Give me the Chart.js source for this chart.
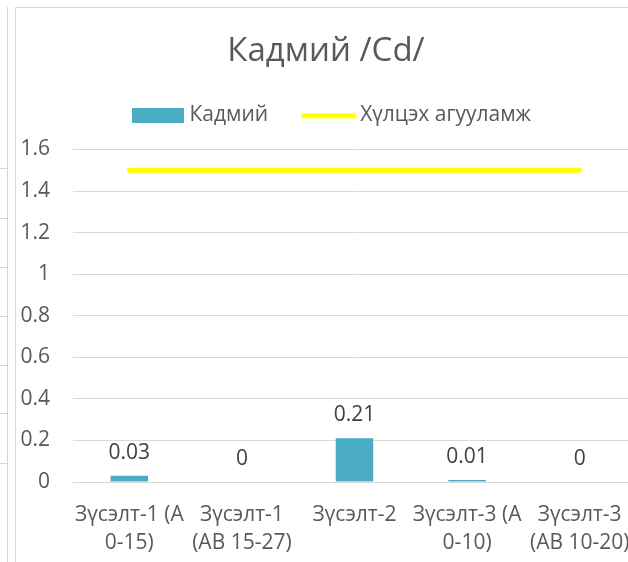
<!DOCTYPE html>
<html><head><meta charset="utf-8">
<script src="https://cdn.jsdelivr.net/npm/chart.js@4.4.1/dist/chart.umd.min.js"></script>
<style>
html,body{margin:0;padding:0;background:#fff;}
body{width:628px;height:562px;overflow:hidden;position:relative;}
.vl{position:absolute;left:7px;top:7px;width:1px;height:560px;background:#d4d4d4;}
.hl{position:absolute;left:0;width:7px;height:1px;background:#d4d4d4;}
#frame{position:absolute;left:15px;top:7px;width:640px;height:620px;border-left:1px solid #d9d9d9;border-top:1px solid #d9d9d9;}
#wrap{position:absolute;left:16px;top:8px;width:620px;height:600px;}
</style></head>
<body>
<div class="vl"></div>
<div class="hl" style="top:168px"></div>
<div class="hl" style="top:218px"></div>
<div class="hl" style="top:267px"></div>
<div class="hl" style="top:316px"></div>
<div class="hl" style="top:365px"></div>
<div class="hl" style="top:413px"></div>
<div class="hl" style="top:463px"></div>
<div id="frame"></div>
<div id="wrap"><canvas id="c" width="620" height="600"></canvas></div>
<script>
const chartTitle = 'Кадмий /Cd/';
const seriesNames = ['Кадмий', 'Хүлцэх агууламж'];
const categories = [['Зүсэлт-1 (А', '0-15)'], ['Зүсэлт-1', '(АВ 15-27)'], ['Зүсэлт-2'], ['Зүсэлт-3 (А', '0-10)'], ['Зүсэлт-3', '(АВ 10-20)']];
const cadmium = [0.03, 0, 0.21, 0.01, 0];
const limitValues = [1.5, 1.5, 1.5, 1.5, 1.5];
const yTicks = ['0', '0.2', '0.4', '0.6', '0.8', '1', '1.2', '1.4', '1.6'];

const F = "'Open Sans', 'Noto Sans', sans-serif";
const BAR = '#4BACC6';
const LINE = '#FFFF00';
const SMALL = 21;

function marker(w, h, draw) {
  const c = document.createElement('canvas');
  c.width = w; c.height = h;
  draw(c.getContext('2d'));
  return c;
}
const barMarker = marker(52, 15, g => { g.fillStyle = BAR; g.fillRect(0, 0, 52, 15); });
const lineMarker = marker(56, 6, g => {
  g.strokeStyle = LINE; g.lineWidth = 5; g.lineCap = 'round';
  g.beginPath(); g.moveTo(3, 3); g.lineTo(53, 3); g.stroke();
});

const valueLabels = {
  id: 'valueLabels',
  afterDatasetsDraw(chart) {
    const meta = chart.getDatasetMeta(0);
    const ctx = chart.ctx;
    ctx.save();
    ctx.font = SMALL + "px " + F;
    ctx.fillStyle = '#404040';
    ctx.textAlign = 'center';
    ctx.textBaseline = 'alphabetic';
    meta.data.forEach((el, i) => {
      ctx.fillText(String(cadmium[i]), el.x, el.y - 17);
    });
    ctx.restore();
  }
};

const legendShift = {
  id: 'legendShift',
  afterLayout(chart) {
    if (chart.legend) { chart.legend.left += 8; chart.legend.right += 8; }
  }
};

function make() {
  new Chart(document.getElementById('c'), {
    type: 'bar',
    data: {
      labels: categories,
      datasets: [
        { type: 'bar', label: seriesNames[0], data: cadmium, backgroundColor: BAR, borderWidth: 0,
          categoryPercentage: 1, barPercentage: 0.333 },
        { type: 'line', label: seriesNames[1], data: limitValues, borderColor: LINE, backgroundColor: LINE,
          borderWidth: 5, pointRadius: 0, borderCapStyle: 'round', fill: false }
      ]
    },
    options: {
      responsive: false,
      animation: false,
      layout: { padding: 0 },
      plugins: {
        title: { display: true, text: chartTitle, color: '#595959',
          font: { family: F, size: 33, weight: 'normal', lineHeight: 0.8 },
          padding: { top: 30.8, bottom: 0.3 } },
        subtitle: { display: true, text: '', weight: 500, font: { size: 1, lineHeight: 1 },
          padding: { top: 12.5, bottom: 0 } },
        legend: {
          position: 'top',
          weight: 1000,
          labels: {
            usePointStyle: true, pointStyleWidth: 42, boxHeight: 15,
            color: '#595959', font: { family: F, size: SMALL }, padding: 39.5,
            generateLabels(chart) {
              const items = Chart.defaults.plugins.legend.labels.generateLabels(chart);
              items[0].pointStyle = barMarker; items[0].lineWidth = 0;
              items[1].pointStyle = lineMarker; items[1].lineWidth = 0;
              return items;
            }
          }
        },
        tooltip: { enabled: false }
      },
      scales: {
        x: {
          grid: { display: true, drawOnChartArea: false, drawTicks: true, tickLength: 19.5, color: 'rgba(0,0,0,0)' },
          border: { display: false },
          ticks: { color: '#595959', font: { family: F, size: SMALL, lineHeight: 1.33 }, padding: 0, maxRotation: 0, autoSkip: false },
          afterFit(s) { s.height = 126; }
        },
        y: {
          min: 0, max: 1.6,
          grid: { color: '#d9d9d9', drawTicks: false, lineWidth: 1 },
          border: { display: false },
          ticks: { stepSize: 0.2, color: '#595959', font: { family: F, size: SMALL }, padding: 23,
            callback: (v, i) => yTicks[i] },
          afterFit(s) { s.width = 57; }
        }
      }
    },
    plugins: [valueLabels, legendShift]
  });
}
const loads = [SMALL + "px 'Open Sans'", "33px 'Open Sans'"].map(f => document.fonts.load(f, 'Кадмий Зүсэлт'));
Promise.all(loads).then(make, make);
</script>
</body></html>
